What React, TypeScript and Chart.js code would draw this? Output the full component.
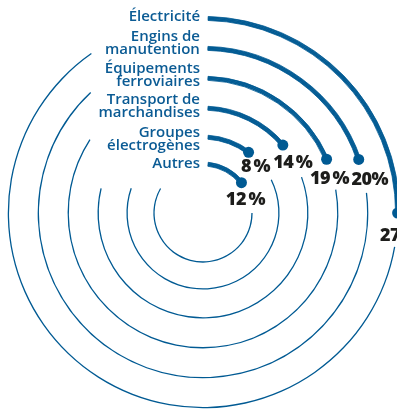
import { useEffect, useRef } from "react";
import { Chart, registerables } from "chart.js";

Chart.register(...registerables);

// ---- data ----
const categories: string[][] = [
  ["Électricité"],
  ["Engins de", "manutention"],
  ["Équipements", "ferroviaires"],
  ["Transport de", "marchandises"],
  ["Groupes", "électrogènes"],
  ["Autres"],
];
const shares = [27, 20, 19, 14, 8, 12];
const shareLabels = ["27 %", "20%", "19 %", "14 %", "8 %", "12 %"];
// arc geometry as drawn in the picture (degrees clockwise from 12 o'clock)
const arcStartDeg = [1.5, 1.7, 2.1, 2.7, 3.8, 5.9];
const arcEndDeg = [90, 71, 66.5, 49.6, 36.9, 51.7];
const trackStartDeg = [100, 83, 80, 70, 64, 90];
const trackEndDeg = [325, 317, 303, 283.6, 289, 300];

// ---- styles ----
const BLUE = "#005a93";
const TEXT_BLUE = "#0b5b94";
const DARK = "#1d1d1b";
const CLEAR = "rgba(0,0,0,0)";
const THICK_HALF = 1.35;
const THIN = 1.3;
const GAPS = [26, 26, 26, 25, 23];
const LABEL_SHIFT = [-2, -5, -3, -2, 2, -1];
const PCT_DX = [2, 11, 3, 10, 7, 4];
const PCT_DY = [23, 20, 20, 18, 15, 17];

function segments(i: number): number[] {
  return [
    arcStartDeg[i],
    arcEndDeg[i] - arcStartDeg[i],
    trackStartDeg[i] - arcEndDeg[i],
    trackEndDeg[i] - trackStartDeg[i],
    360 - trackEndDeg[i],
  ];
}

function buildDatasets() {
  const ds: any[] = [];
  categories.forEach((_, i) => {
    const parts: Array<"outer" | "mid" | "inner"> = ["outer", "mid", "inner"];
    parts.forEach((part) => {
      ds.push({
        data: segments(i),
        ring: i,
        part,
        share: shares[i],
        weight: part === "mid" ? THIN : THICK_HALF,
        backgroundColor: [CLEAR, BLUE, CLEAR, part === "mid" ? BLUE : CLEAR, CLEAR],
        borderColor: [CLEAR, BLUE, CLEAR, CLEAR, CLEAR],
        borderWidth: [0, 0.8, 0, 0, 0],
        hoverBorderWidth: 0,
        hoverOffset: 0,
        offset: 0,
      });
    });
    if (i < GAPS.length) {
      ds.push({
        data: [1],
        part: "spacer",
        weight: GAPS[i],
        backgroundColor: [CLEAR],
        borderWidth: 0,
        hoverBorderWidth: 0,
        hoverOffset: 0,
      });
    }
  });
  return ds;
}

const labelPlugin = {
  id: "radialLabels",
  afterDatasetsDraw(chart: any) {
    const ctx: any = chart.ctx;
    chart.data.datasets.forEach((ds: any, di: number) => {
      if (ds.part !== "mid") return;
      const meta = chart.getDatasetMeta(di);
      const arc: any = meta.data[1];
      if (!arc) return;
      const i = ds.ring;
      const r = (arc.innerRadius + arc.outerRadius) / 2;
      const cx = arc.x;
      const cy = arc.y;
      // end dot
      const ex = cx + r * Math.cos(arc.endAngle);
      const ey = cy + r * Math.sin(arc.endAngle);
      ctx.save();
      ctx.fillStyle = BLUE;
      ctx.beginPath();
      ctx.arc(ex, ey, 5.5, 0, Math.PI * 2);
      ctx.fill();
      // percentage
      ctx.fillStyle = DARK;
      ctx.font = "800 18px 'Open Sans', sans-serif";
      ctx.letterSpacing = "-0.5px";
      ctx.textAlign = "center";
      ctx.textBaseline = "middle";
      ctx.fillText(shareLabels[i].replace(" ", "\u2009"), ex + PCT_DX[i], ey + PCT_DY[i]);
      ctx.letterSpacing = "0px";
      // category label
      const sx = cx + r * Math.cos(arc.startAngle);
      const sy = cy + r * Math.sin(arc.startAngle);
      const lines = categories[i];
      const lh = 13.5;
      const center = sy + LABEL_SHIFT[i];
      ctx.fillStyle = TEXT_BLUE;
      ctx.font = "600 15px 'Open Sans', sans-serif";
      ctx.textAlign = "right";
      lines.forEach((line, j) => {
        ctx.fillText(line, sx - 8, center + (j - (lines.length - 1) / 2) * lh);
      });
      ctx.restore();
    });
  },
};

export default function App() {
  const ref = useRef<HTMLCanvasElement>(null);
  useEffect(() => {
    if (!ref.current) return;
    const chart = new Chart(ref.current, {
      type: "doughnut",
      data: {
        labels: ["start", "share", "gap", "track", "end"],
        datasets: buildDatasets(),
      },
      options: {
        responsive: false,
        animation: false,
        events: [],
        cutout: 47,
        rotation: 0,
        circumference: 360,
        layout: { padding: { left: 6, top: 16, right: 20, bottom: 10 } },
        plugins: {
          legend: { display: false },
          tooltip: { enabled: false },
          title: { display: false },
        },
      },
      plugins: [labelPlugin],
    } as any);
    return () => chart.destroy();
  }, []);
  return (
    <div
      style={{
        position: "absolute",
        left: 0,
        top: 0,
        width: 397,
        height: 409,
        overflow: "hidden",
        background: "#ffffff",
      }}
    >
      <canvas ref={ref} width={420} height={420} style={{ width: 420, height: 420 }} />
    </div>
  );
}
